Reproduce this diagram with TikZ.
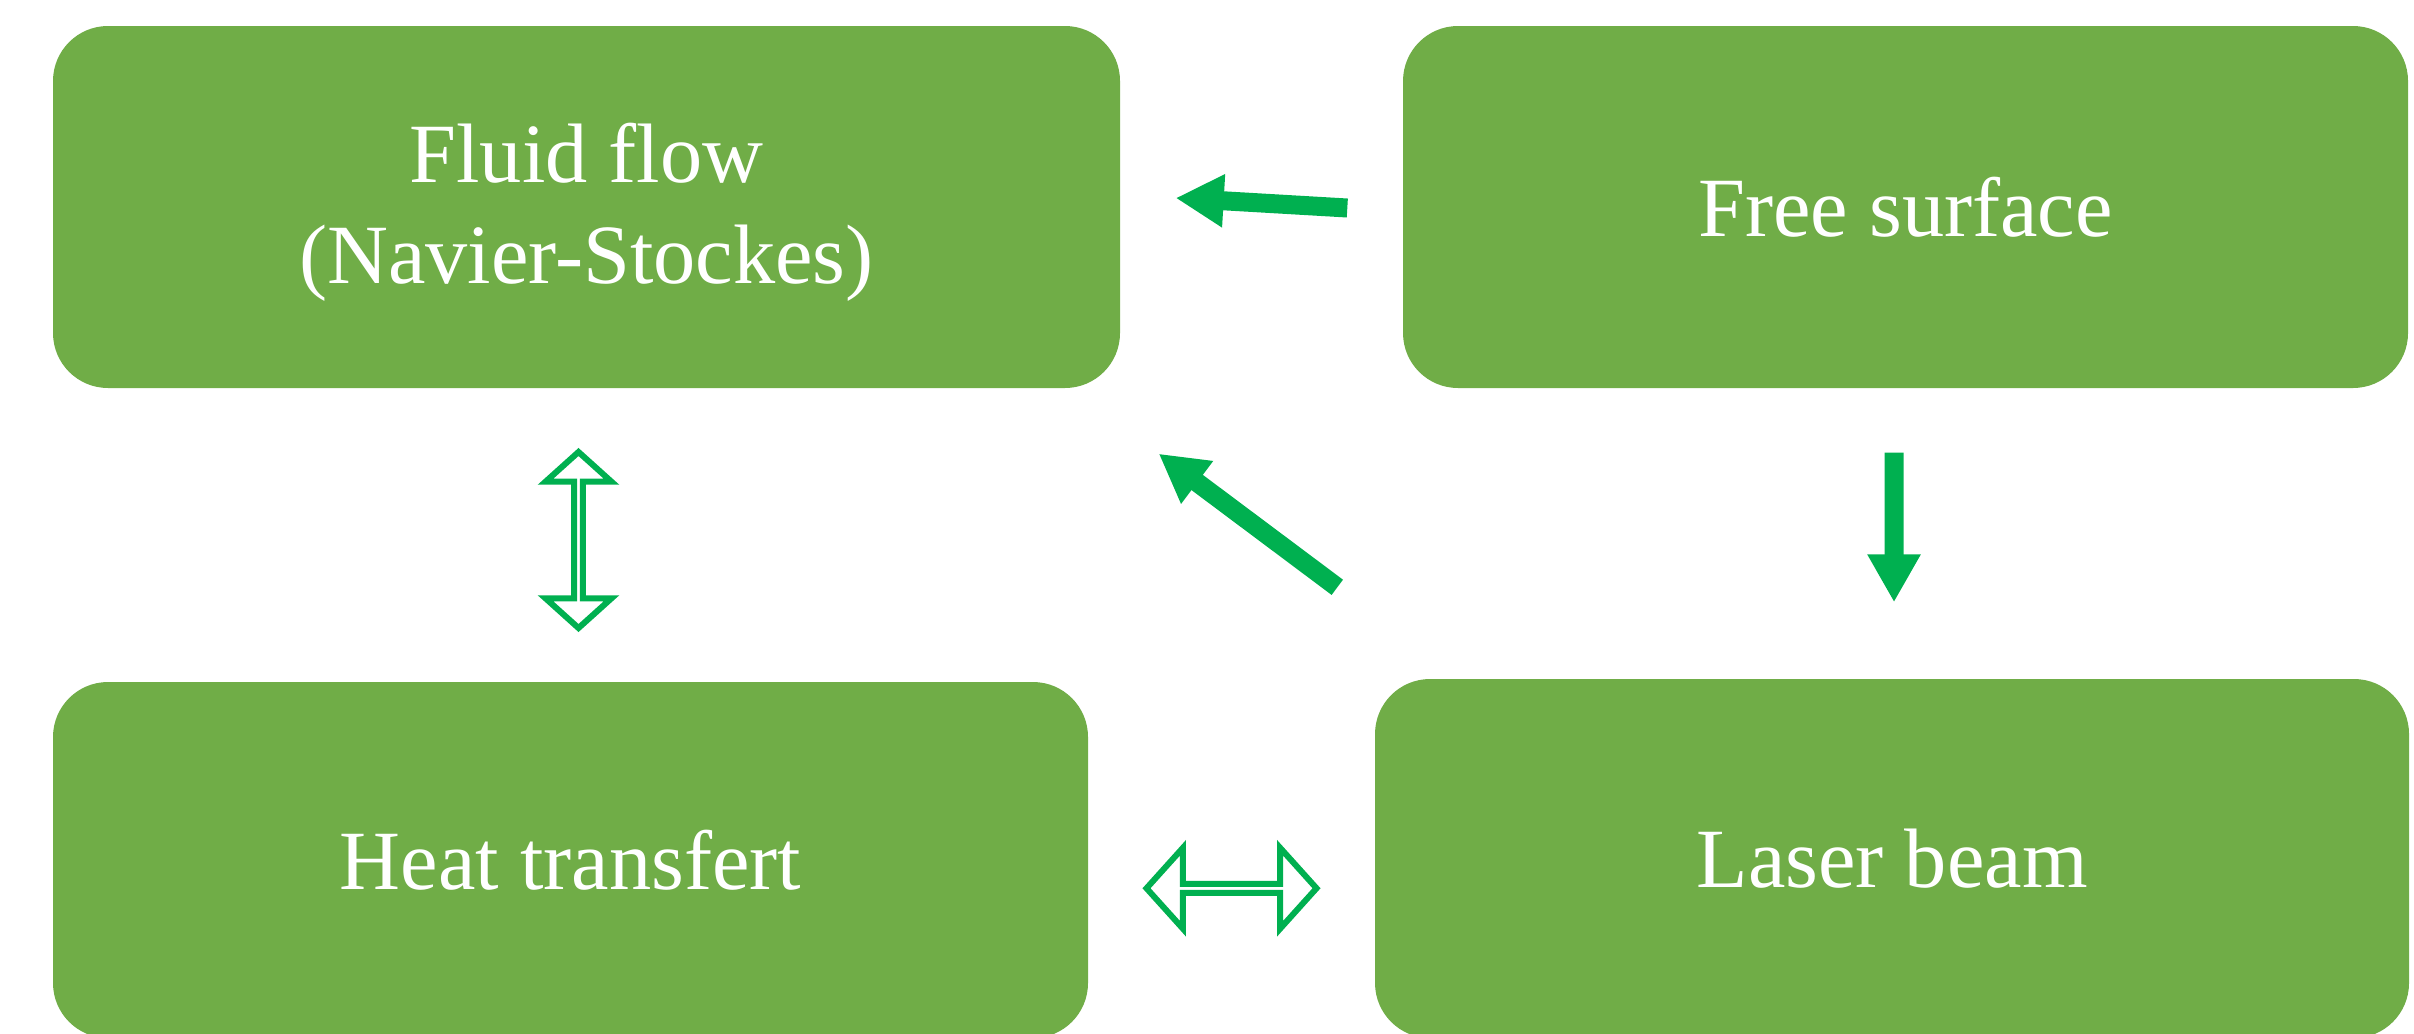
\documentclass[tikz,border=0pt]{standalone}
\usepackage{fontspec}
\setmainfont{Liberation Serif}
\usepackage{xcolor}
\definecolor{verdecaja}{RGB}{112,173,71}
\definecolor{verdeflecha}{RGB}{0,176,80}
\usepackage{tikz}
\usetikzlibrary{arrows.meta,calc,positioning,shapes.arrows}

\begin{document}
\begin{tikzpicture}[
    caja/.style={fill=verdecaja,draw=none,rounded corners=0.55cm,text=white,align=center,
      font=\fontsize{24}{28.7}\selectfont},
    lleno/.style={verdeflecha,line width=0.19cm,-{Triangle[length=0.48cm,width=0.5cm]}},
    hueco/.style={double arrow,draw=verdeflecha,line width=0.06cm,fill=white,inner sep=0pt,
      double arrow head indent=0pt,double arrow tip angle=96}]
  \useasboundingbox (0,0) rectangle (24.14,-10.33);
  % cajas
  \node[caja,minimum width=10.67cm,minimum height=3.62cm] (fluid) at (5.865,-2.07) {\strut Fluid flow\\(Navier-Stockes)};
  \node[caja,minimum width=10.05cm,minimum height=3.62cm] (free) at (19.055,-2.07) {Free surface};
  \node[caja,minimum width=10.35cm,minimum height=3.56cm] (heat) at (5.705,-8.6) {Heat transfert};
  \node[caja,minimum width=10.34cm,minimum height=3.59cm] (laser) at (18.92,-8.585) {Laser beam};
  % flechas llenas
  \draw[lleno] ($(free.west)+(-0.55,-0.01)$) -- ($(fluid.east)+(0.55,0.09)$);
  \draw[lleno] ($(free.south)+(-0.115,-0.64)$) -- ($(laser.north)+(0.02,0.76)$);
  \draw[lleno] ($(laser.north west)+(-0.37,0.91)$) -- ($(fluid.south east)+(0.38,-0.65)$);
  % flechas dobles
  \node[hueco,rotate=90,minimum height=1.76cm,minimum width=0.66cm,double arrow head extend=0.2cm,
    xshift=-0.05cm] (fh) at ($(fluid.south)!0.5!(heat.north)$) {};
  \node[hueco,minimum height=1.7cm,minimum width=0.81cm,double arrow head extend=0.24cm,
    yshift=-0.29cm] (hl) at ($(heat.east)!0.5!(laser.west)$) {};
\end{tikzpicture}
\end{document}
